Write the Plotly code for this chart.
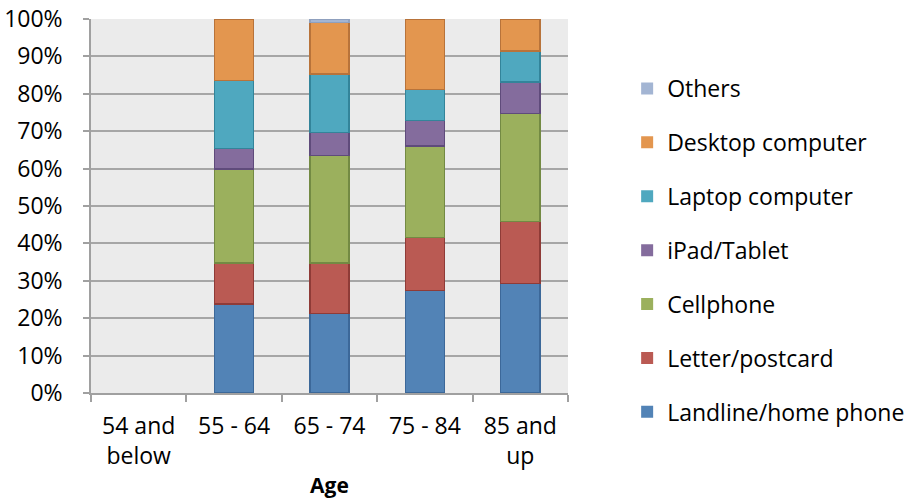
import plotly.graph_objects as go

# Age groups on the category axis (first group has no responses)
age_groups = ["54 and<br>below", "55 - 64", "65 - 74", "75 - 84", "85 and<br>up"]

# Share of each contact method per age group, in percent
landline = [None, 23.8, 21.3, 27.4, 29.3]
letter = [None, 10.9, 13.4, 14.2, 16.6]
cellphone = [None, 25.2, 28.8, 24.5, 28.9]
tablet = [None, 5.5, 6.1, 6.7, 8.4]
laptop = [None, 18.1, 15.7, 8.4, 8.2]
desktop = [None, 16.5, 13.7, 18.8, 8.6]
others = [None, 0.0, 1.0, 0.0, 0.0]

series = [
    ("Landline/home phone", landline, "#5283B6", "#3C6899"),
    ("Letter/postcard", letter, "#BA5A53", "#8F3B37"),
    ("Cellphone", cellphone, "#9BB05D", "#738A43"),
    ("iPad/Tablet", tablet, "#846C9D", "#5F4B7B"),
    ("Laptop computer", laptop, "#4FA8BF", "#33849A"),
    ("Desktop computer", desktop, "#E3964F", "#B8733A"),
    ("Others", others, "#A3B5D3", "#8FA0BE"),
]

FONT = "Open Sans"

fig = go.Figure()
for i, (name, vals, fill, edge) in enumerate(series):
    # no outline on empty segments so zero-height bars stay invisible
    edge_widths = [1.5 if v else 0 for v in vals]
    fig.add_trace(go.Bar(
        name=name,
        x=age_groups,
        y=vals,
        width=0.41,
        marker=dict(color=fill, line=dict(color=edge, width=edge_widths)),
        legendgroup=name,
        legendrank=len(series) - i,  # top series listed first
    ))

fig.update_layout(
    barmode="stack",
    width=909,
    height=502,
    margin=dict(l=91, r=341, t=19, b=109, autoexpand=False),
    paper_bgcolor="white",
    plot_bgcolor="#EBEBEB",
    font=dict(family=FONT, size=23, color="black"),
    showlegend=True,
    legend=dict(
        x=1.124, xanchor="left",
        y=0.381, yanchor="middle",
        traceorder="grouped",
        tracegroupgap=21,
        font=dict(family=FONT, size=23, color="black"),
        bgcolor="rgba(0,0,0,0)",
    ),
    xaxis=dict(
        type="category",
        categoryorder="array",
        categoryarray=age_groups,
        tickson="boundaries",
        ticks="outside",
        ticklen=7,
        tickcolor="#A0A0A0",
        tickwidth=1.5,
        showline=True,
        linecolor="#A0A0A0",
        linewidth=1.5,
        showgrid=False,
        tickfont=dict(family=FONT, size=23),
        ticklabelstandoff=12,
        title=dict(text="<b>Age</b>", font=dict(family=FONT, size=21), standoff=8),
    ),
    yaxis=dict(
        range=[0, 100],
        dtick=10,
        ticksuffix="%",
        ticks="outside",
        ticklen=6,
        tickcolor="#A0A0A0",
        tickwidth=1.5,
        showline=True,
        linecolor="#A0A0A0",
        linewidth=1.5,
        showgrid=True,
        gridcolor="#A6A6A6",
        gridwidth=1.5,
        zeroline=False,
        tickfont=dict(family=FONT, size=23),
        ticklabelstandoff=16,
    ),
)

fig.write_html("out.html")
